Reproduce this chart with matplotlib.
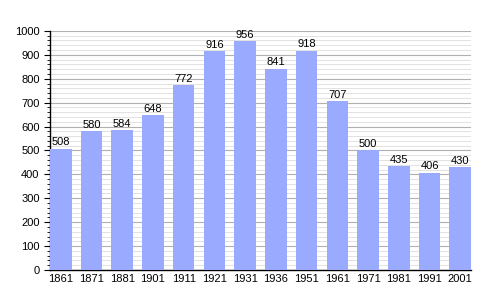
import matplotlib
matplotlib.use("Agg")
import matplotlib.pyplot as plt
from matplotlib.ticker import MultipleLocator

years = ["1861", "1871", "1881", "1901", "1911", "1921", "1931", "1936", "1951", "1961", "1971", "1981", "1991", "2001"]
population = [508, 580, 584, 648, 772, 916, 956, 841, 918, 707, 500, 435, 406, 430]

plt.rcParams['font.family'] = ['Liberation Sans', 'DejaVu Sans']
fig = plt.figure(figsize=(5, 3), dpi=100)
ax = fig.add_axes([0.10, 0.10, 0.842, 0.797])

x = list(range(len(years)))
bars = ax.bar(x, population, width=0.7, color='#99aaff', zorder=3)
for xi, v in zip(x, population):
    ax.text(xi, v + 6, str(v), ha='center', va='bottom', fontsize=8, zorder=4)

ax.set_xlim(-0.35, len(years) - 1 + 0.35)
ax.set_ylim(0, 1000)
ax.set_xticks(x)
ax.set_xticklabels(years, fontsize=8)
ax.yaxis.set_major_locator(MultipleLocator(100))
ax.yaxis.set_minor_locator(MultipleLocator(20))
ax.tick_params(axis='y', labelsize=8, length=4, width=0.8)
ax.tick_params(axis='y', which='minor', length=2.5, width=0.6)
ax.tick_params(axis='x', length=0, pad=3)
ax.grid(axis='y', which='major', color='#b0b0b0', linewidth=0.8, zorder=0)
ax.grid(axis='y', which='minor', color='#dddddd', linewidth=0.6, zorder=0)
for s in ['top', 'right']:
    ax.spines[s].set_visible(False)
ax.spines['left'].set_linewidth(1.0)
ax.spines['bottom'].set_linewidth(1.0)
ax.set_axisbelow(True)

fig.savefig("out.png", dpi=100)
